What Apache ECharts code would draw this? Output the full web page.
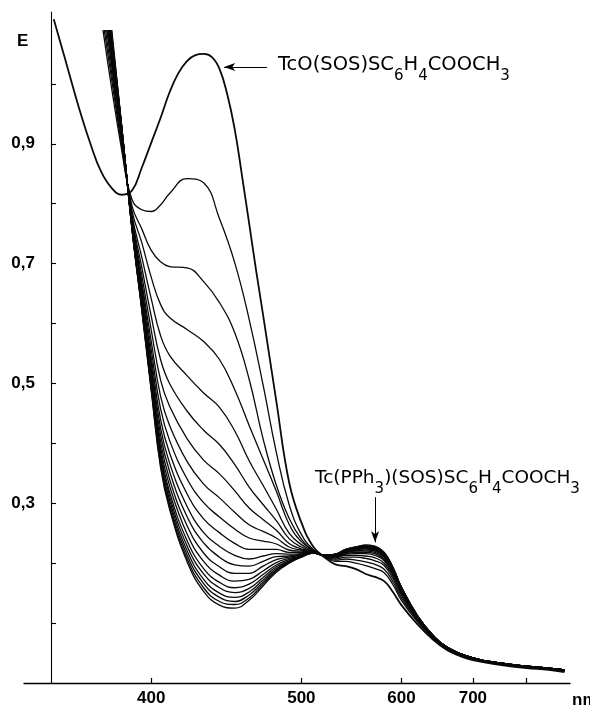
<!DOCTYPE html>
<html><head><meta charset="utf-8">
<script src="https://cdn.jsdelivr.net/npm/echarts@6/dist/echarts.min.js"></script>
<style>html,body{margin:0;padding:0;background:#fff}#c{width:590px;height:707px}</style>
</head><body><div id="c"></div>
<script>
// ---------- axis ticks / labels ----------
const xTickNm = [400, 500, 600, 700, 800];
const xLabelNm = [400, 500, 600, 700];
const yTicks = [0.1, 0.2, 0.3, 0.4, 0.5, 0.6, 0.7, 0.8, 0.9, 1.0];
const yLabels = [0.3, 0.5, 0.7, 0.9];

// ---------- curve A: TcO(SOS)SC6H4COOCH3 (start spectrum) ----------
const lamA = [354, 360, 365, 370, 375, 380, 385, 390, 395, 400, 405, 410, 415, 420, 425, 430, 435, 440, 445, 450, 455, 460, 465, 470, 480, 490, 500, 510, 520, 530, 540, 550, 560, 570, 580, 590, 600, 620, 640, 660, 680, 700, 750, 800, 850, 890];
const curveA = [1.108, 1.025, 0.958, 0.9, 0.853, 0.826, 0.815, 0.822, 0.86, 0.902, 0.943, 0.986, 1.018, 1.038, 1.048, 1.05, 1.045, 1.025, 0.983, 0.925, 0.847, 0.767, 0.688, 0.615, 0.47, 0.335, 0.268, 0.228, 0.21, 0.198, 0.195, 0.19, 0.182, 0.177, 0.17, 0.152, 0.13, 0.098, 0.073, 0.055, 0.045, 0.038, 0.03, 0.025, 0.022, 0.018];

// ---------- later spectra (share one wavelength grid) ----------
const lamG = [385, 390, 395, 400, 405, 410, 420, 430, 440, 450, 460, 470, 480, 490, 500, 510, 520, 530, 540, 550, 560, 570, 580, 590, 600, 620, 640, 660, 700, 750, 800, 850, 890];
// where each of these spectra leaves the top of the plot (nm), at E = startE
const startNm = [375.8, 376.4, 377.0, 377.6, 377.9, 378.2, 378.5, 378.6, 378.8, 378.9, 379.1, 379.2, 379.3, 379.4, 379.5, 379.6, 379.7, 379.8, 380.0];
const startE = 1.09;

const curve02 = [0.886, 0.807, 0.79, 0.787, 0.798, 0.817, 0.842, 0.835, 0.775, 0.702, 0.607, 0.498, 0.385, 0.298, 0.248, 0.223, 0.211, 0.203, 0.203, 0.2, 0.196, 0.191, 0.184, 0.164, 0.138, 0.102, 0.075, 0.056, 0.039, 0.031, 0.026, 0.023, 0.019];
const curve03 = [0.893, 0.796, 0.758, 0.722, 0.703, 0.695, 0.693, 0.67, 0.635, 0.585, 0.507, 0.408, 0.33, 0.275, 0.24, 0.22, 0.211, 0.205, 0.207, 0.205, 0.202, 0.198, 0.19, 0.169, 0.142, 0.104, 0.076, 0.057, 0.04, 0.031, 0.026, 0.023, 0.02];
const curve04 = [0.899, 0.788, 0.735, 0.677, 0.632, 0.61, 0.59, 0.57, 0.54, 0.49, 0.43, 0.374, 0.32, 0.265, 0.236, 0.222, 0.212, 0.207, 0.21, 0.21, 0.208, 0.204, 0.196, 0.174, 0.146, 0.105, 0.077, 0.058, 0.04, 0.032, 0.027, 0.024, 0.02];
const curve05 = [0.904, 0.781, 0.711, 0.641, 0.58, 0.547, 0.513, 0.484, 0.46, 0.421, 0.371, 0.33, 0.29, 0.25, 0.231, 0.221, 0.212, 0.209, 0.213, 0.213, 0.212, 0.209, 0.2, 0.178, 0.149, 0.107, 0.077, 0.058, 0.041, 0.032, 0.027, 0.024, 0.021];
const curve06 = [0.908, 0.777, 0.694, 0.612, 0.54, 0.5, 0.454, 0.422, 0.398, 0.365, 0.327, 0.298, 0.271, 0.241, 0.227, 0.22, 0.212, 0.21, 0.215, 0.216, 0.216, 0.213, 0.204, 0.181, 0.151, 0.108, 0.078, 0.058, 0.041, 0.032, 0.027, 0.024, 0.021];
const curve07 = [0.911, 0.773, 0.681, 0.589, 0.506, 0.462, 0.408, 0.372, 0.349, 0.321, 0.292, 0.273, 0.255, 0.233, 0.224, 0.22, 0.212, 0.211, 0.216, 0.218, 0.218, 0.216, 0.206, 0.183, 0.153, 0.109, 0.078, 0.059, 0.041, 0.032, 0.027, 0.024, 0.021];
const curve08 = [0.913, 0.77, 0.67, 0.57, 0.479, 0.43, 0.37, 0.332, 0.309, 0.285, 0.264, 0.253, 0.242, 0.227, 0.222, 0.219, 0.212, 0.212, 0.217, 0.22, 0.22, 0.218, 0.208, 0.185, 0.154, 0.109, 0.079, 0.059, 0.041, 0.032, 0.027, 0.024, 0.021];
const curve09 = [0.915, 0.768, 0.662, 0.556, 0.458, 0.405, 0.341, 0.301, 0.277, 0.257, 0.242, 0.237, 0.232, 0.222, 0.22, 0.219, 0.213, 0.212, 0.218, 0.221, 0.222, 0.22, 0.21, 0.186, 0.155, 0.11, 0.079, 0.059, 0.041, 0.032, 0.027, 0.024, 0.021];
const curve10 = [0.917, 0.766, 0.654, 0.543, 0.44, 0.384, 0.316, 0.274, 0.251, 0.233, 0.223, 0.223, 0.223, 0.218, 0.218, 0.218, 0.213, 0.213, 0.219, 0.222, 0.224, 0.221, 0.212, 0.187, 0.156, 0.11, 0.079, 0.059, 0.041, 0.033, 0.028, 0.025, 0.022];
const curve11 = [0.918, 0.764, 0.648, 0.533, 0.426, 0.367, 0.295, 0.251, 0.228, 0.213, 0.207, 0.212, 0.216, 0.215, 0.216, 0.218, 0.213, 0.213, 0.22, 0.223, 0.225, 0.222, 0.213, 0.188, 0.157, 0.11, 0.079, 0.059, 0.042, 0.033, 0.028, 0.025, 0.022];
const curve12 = [0.919, 0.763, 0.644, 0.525, 0.414, 0.353, 0.278, 0.234, 0.21, 0.197, 0.195, 0.203, 0.211, 0.212, 0.215, 0.218, 0.213, 0.213, 0.22, 0.224, 0.226, 0.223, 0.214, 0.189, 0.157, 0.111, 0.079, 0.06, 0.042, 0.033, 0.028, 0.025, 0.022];
const curve13 = [0.92, 0.762, 0.639, 0.517, 0.403, 0.34, 0.263, 0.217, 0.194, 0.183, 0.183, 0.195, 0.206, 0.21, 0.214, 0.218, 0.213, 0.214, 0.221, 0.224, 0.227, 0.224, 0.215, 0.19, 0.158, 0.111, 0.08, 0.06, 0.042, 0.033, 0.028, 0.025, 0.022];
const curve14 = [0.921, 0.761, 0.635, 0.51, 0.393, 0.329, 0.249, 0.203, 0.18, 0.17, 0.173, 0.187, 0.201, 0.208, 0.213, 0.218, 0.213, 0.214, 0.221, 0.225, 0.227, 0.225, 0.215, 0.191, 0.158, 0.111, 0.08, 0.06, 0.042, 0.033, 0.028, 0.025, 0.022];
const curve15 = [0.922, 0.76, 0.632, 0.505, 0.386, 0.319, 0.238, 0.191, 0.168, 0.159, 0.165, 0.181, 0.197, 0.206, 0.212, 0.217, 0.213, 0.214, 0.222, 0.225, 0.228, 0.226, 0.216, 0.191, 0.159, 0.111, 0.08, 0.06, 0.042, 0.033, 0.028, 0.025, 0.022];
const curve16 = [0.922, 0.759, 0.63, 0.5, 0.379, 0.312, 0.229, 0.182, 0.159, 0.151, 0.158, 0.176, 0.194, 0.204, 0.212, 0.217, 0.213, 0.214, 0.222, 0.226, 0.228, 0.226, 0.216, 0.192, 0.159, 0.112, 0.08, 0.06, 0.042, 0.033, 0.028, 0.025, 0.022];
const curve17 = [0.923, 0.758, 0.627, 0.496, 0.373, 0.305, 0.221, 0.173, 0.15, 0.143, 0.152, 0.172, 0.191, 0.203, 0.211, 0.217, 0.213, 0.215, 0.222, 0.226, 0.229, 0.227, 0.217, 0.192, 0.159, 0.112, 0.08, 0.06, 0.042, 0.033, 0.028, 0.025, 0.022];
const curve18 = [0.923, 0.758, 0.625, 0.493, 0.368, 0.299, 0.214, 0.166, 0.143, 0.136, 0.147, 0.168, 0.189, 0.202, 0.211, 0.217, 0.213, 0.215, 0.223, 0.226, 0.229, 0.227, 0.217, 0.192, 0.16, 0.112, 0.08, 0.06, 0.042, 0.033, 0.028, 0.025, 0.022];
const curve19 = [0.924, 0.757, 0.624, 0.49, 0.364, 0.294, 0.208, 0.159, 0.136, 0.131, 0.142, 0.165, 0.187, 0.201, 0.21, 0.217, 0.213, 0.215, 0.223, 0.227, 0.23, 0.228, 0.218, 0.193, 0.16, 0.112, 0.08, 0.06, 0.042, 0.033, 0.028, 0.025, 0.022];
// final spectrum: Tc(PPh3)(SOS)SC6H4COOCH3
const curve20 = [0.924, 0.757, 0.622, 0.487, 0.36, 0.29, 0.203, 0.153, 0.13, 0.125, 0.138, 0.162, 0.185, 0.2, 0.21, 0.217, 0.213, 0.215, 0.223, 0.227, 0.23, 0.228, 0.218, 0.193, 0.16, 0.112, 0.08, 0.06, 0.042, 0.033, 0.028, 0.025, 0.022];

const laterCurves = [curve02, curve03, curve04, curve05, curve06, curve07, curve08, curve09, curve10, curve11, curve12, curve13, curve14, curve15, curve16, curve17, curve18, curve19, curve20];

// annotation texts
const label1 = [['TcO(SOS)SC', 0], ['6', 1], ['H', 0], ['4', 1], ['COOCH', 0], ['3', 1]];
const label2 = [['Tc(PPh', 0], ['3', 1], [')(SOS)SC', 0], ['6', 1], ['H', 0], ['4', 1], ['COOCH', 0], ['3', 1]];

// ---------- build ----------
const toK = nm => 1e4 / nm;   // the printed axis is linear in 1/λ
const LINE = '#0a0a0a';

const series = [];
series.push({
  type: 'line', name: 'A', data: lamA.map((l, i) => [toK(l), curveA[i]]),
  showSymbol: false, smooth: 0.45, silent: true,
  lineStyle: { color: LINE, width: 1.8 },
  markLine: {
    silent: true, symbol: ['none', 'arrow'], symbolSize: [6, 11], animation: false,
    lineStyle: { color: '#000', width: 1, type: 'solid' }, label: { show: false },
    data: [
      [{ coord: [toK(473), 1.028] }, { coord: [toK(443), 1.028] }],
      [{ coord: [toK(570), 0.31] }, { coord: [toK(570), 0.235] }]
    ]
  }
});
laterCurves.forEach((arr, i) => {
  series.push({
    type: 'line', data: [[toK(startNm[i]), startE]].concat(lamG.map((l, j) => [toK(l), arr[j]])),
    showSymbol: false, smooth: 0.45, silent: true,
    lineStyle: { color: LINE, width: 1.3 }
  });
});

const fmtComma = v => (Math.round(v * 10) / 10).toFixed(1).replace('.', ',');
const labelFont = { color: '#000', fontFamily: 'Liberation Sans', fontWeight: 'bold', fontSize: 17 };

function formula(parts, x, yMain, ySub, mainSize, subSize) {
  const ctx = document.createElement('canvas').getContext('2d');
  const els = [];
  let cx = x;
  parts.forEach(([t, sub]) => {
    const size = sub ? subSize : mainSize;
    ctx.font = size + 'px "DejaVu Sans"';
    els.push({
      type: 'text', x: cx, y: sub ? ySub : yMain, silent: true,
      style: { text: t, fill: '#000', fontSize: size, fontFamily: 'DejaVu Sans', align: 'left', verticalAlign: 'middle' }
    });
    cx += ctx.measureText(t).width;
  });
  return els;
}

const graphics = []
  .concat(formula(label1, 278, 65, 76, 19.5, 15))
  .concat(formula(label2, 315, 478, 489, 18.5, 15))
  .concat([
    { type: 'text', x: 17, y: 41, silent: true, style: { text: 'E', fill: '#000', fontSize: 17, fontFamily: 'Liberation Sans', fontWeight: 'bold', align: 'left', verticalAlign: 'middle' } },
    { type: 'text', x: 572, y: 700, silent: true, style: { text: 'nm', fill: '#000', fontSize: 17, fontFamily: 'Liberation Sans', fontWeight: 'bold', align: 'left', verticalAlign: 'middle' } }
  ]);

const chart = echarts.init(document.getElementById('c'), null, { renderer: 'canvas' });
chart.setOption({
  animation: false,
  backgroundColor: '#fff',
  grid: { left: 24, right: 20, top: 12, bottom: 23, containLabel: false },
  xAxis: {
    type: 'value', min: 11.05, max: 29.24, inverse: true,
    axisLine: { onZero: false, lineStyle: { color: '#000', width: 1.4 } },
    axisTick: { inside: true, length: 5, lineStyle: { color: '#000', width: 1.2 }, customValues: xTickNm.map(toK) },
    axisLabel: Object.assign({ margin: 7, customValues: xLabelNm.map(toK), formatter: v => String(Math.round(1e4 / v)) }, labelFont),
    splitLine: { show: false }
  },
  yAxis: {
    type: 'value', min: 0, max: 1.12, offset: -27,
    axisLine: { show: true, onZero: false, lineStyle: { color: '#000', width: 1.1 } },
    axisTick: { show: true, inside: true, length: 5, lineStyle: { color: '#000', width: 1.1 }, customValues: yTicks },
    axisLabel: Object.assign({ margin: 16, customValues: yLabels, formatter: v => fmtComma(v) }, labelFont),
    splitLine: { show: false }
  },
  graphic: graphics,
  series: series
});
</script>
</body></html>
